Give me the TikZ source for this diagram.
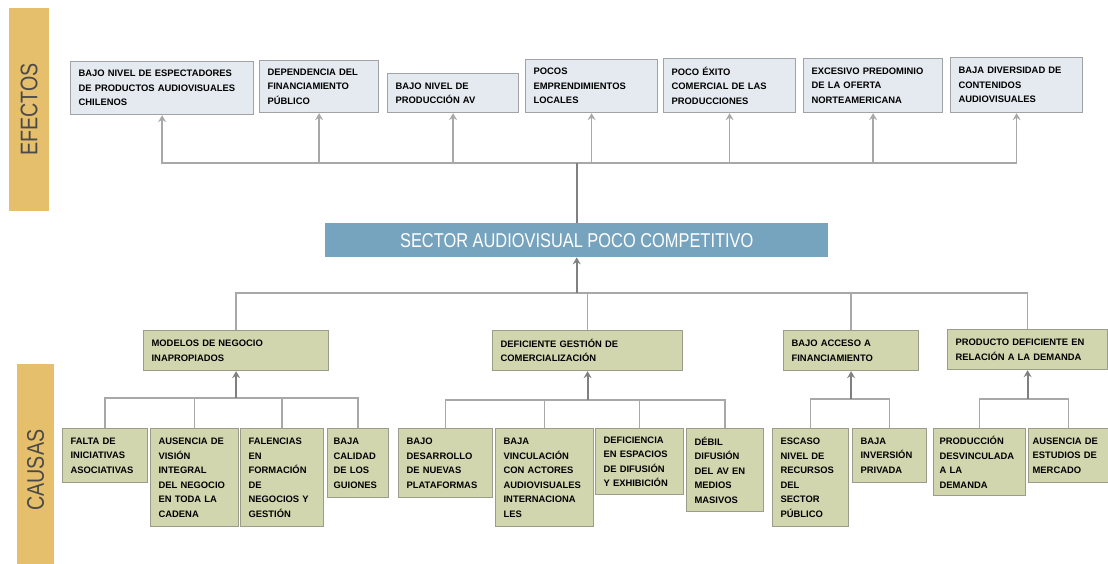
\documentclass[tikz,border=0pt]{standalone}
\usepackage{fontspec}
\setmainfont{Liberation Sans}
\newfontfamily\narrowfont[FakeStretch=0.82]{Liberation Sans}
\newfontfamily\boxfont{Liberation Sans}
\usetikzlibrary{arrows.meta}
\definecolor{barcol}{HTML}{E5BF6B}
\definecolor{efill}{HTML}{E4EAF0}
\definecolor{edraw}{HTML}{A0A4A7}
\definecolor{cfill}{HTML}{D2D6AE}
\definecolor{cdraw}{HTML}{9C9C8A}
\definecolor{centfill}{HTML}{76A3BE}
\definecolor{linecol}{HTML}{A8A8A8}
\definecolor{maincol}{HTML}{808080}
\definecolor{labelcol}{HTML}{4A4A4A}
\tikzset{
  x=1pt, y=-1pt,
  sidebar/.style={fill=barcol, draw=none, anchor=north west, inner sep=0pt},
  sidelabel/.style={rotate=90, font=\narrowfont\fontsize{24}{24}\selectfont, text=labelcol},
  basebox/.style={anchor=north west, inner xsep=8pt, inner ysep=0pt, align=left,
     font=\boxfont\bfseries\fontsize{9.4}{14.5}\selectfont, line width=1.2pt},
  ebox/.style={basebox, fill=efill, draw=edraw},
  cbox/.style={basebox, fill=cfill, draw=cdraw},
  centbox/.style={anchor=north west, fill=centfill, draw=none, inner sep=0pt,
     minimum width=503pt, minimum height=34pt, text=white,
     font=\narrowfont\fontsize{20}{20}\selectfont},
  conn/.style={draw=linecol, line width=1.5pt},
  mainconn/.style={draw=maincol, line width=2pt},
  tip/.style={-{Stealth[length=7pt,width=8pt,inset=2.5pt]}}
}
\begin{document}
\begin{tikzpicture}
\useasboundingbox[fill=white] (0,0) rectangle (1108,564);
% side bars
\node[sidebar, minimum width=40pt, minimum height=203pt] (efbar) at (9,8) {};
\node[sidelabel] (eflabel) at (efbar.center) {EFECTOS};
\node[sidebar, minimum width=37pt, minimum height=200pt] (cabar) at (17,364) {};
\node[sidelabel] (calabel) at ([yshift=-6pt]cabar.center) {CAUSAS};
% effects
\node[ebox, text width=167pt, minimum height=53pt] (e1) at (70,61) {BAJO NIVEL DE ESPECTADORES\\DE PRODUCTOS AUDIOVISUALES\\CHILENOS};
\node[ebox, text width=103pt, minimum height=52pt] (e2) at (259,60) {DEPENDENCIA DEL\\FINANCIAMIENTO\\PÚBLICO};
\node[ebox, text width=115pt, minimum height=39pt] (e3) at (387,73) {BAJO NIVEL DE\\PRODUCCIÓN AV};
\node[ebox, text width=116pt, minimum height=53pt] (e4) at (525,59) {POCOS\\EMPRENDIMIENTOS\\LOCALES};
\node[ebox, text width=116pt, minimum height=54pt] (e5) at (663,58) {POCO ÉXITO\\COMERCIAL DE LAS\\PRODUCCIONES};
\node[ebox, text width=123pt, minimum height=54pt] (e6) at (803,58) {EXCESIVO PREDOMINIO\\DE LA OFERTA\\NORTEAMERICANA};
\node[ebox, text width=116pt, minimum height=55pt] (e7) at (950,57) {BAJA DIVERSIDAD DE\\CONTENIDOS\\AUDIOVISUALES};
% central
\node[centbox] (central) at (325,223) {SECTOR AUDIOVISUAL POCO COMPETITIVO};
% level 1 causes
\node[cbox, text width=169pt, minimum height=40pt] (A) at (143,330) {MODELOS DE NEGOCIO\\INAPROPIADOS};
\node[cbox, text width=174pt, minimum height=40pt] (B) at (492,330) {DEFICIENTE GESTIÓN DE\\COMERCIALIZACIÓN};
\node[cbox, text width=119pt, minimum height=40pt] (C) at (783,330) {BAJO ACCESO A\\FINANCIAMIENTO};
\node[cbox, text width=144pt, minimum height=40pt] (D) at (947,329) {PRODUCTO DEFICIENTE EN\\RELACIÓN A LA DEMANDA};
% level 2 causes
\node[cbox, text width=69pt, minimum height=54pt] (a1) at (62,428) {FALTA DE\\INICIATIVAS\\ASOCIATIVAS};
\node[cbox, text width=72pt, minimum height=98pt] (a2) at (150,428) {AUSENCIA DE\\VISIÓN\\INTEGRAL\\DEL NEGOCIO\\EN TODA LA\\CADENA};
\node[cbox, text width=67pt, minimum height=98pt] (a3) at (240,428) {FALENCIAS\\EN\\FORMACIÓN\\DE\\NEGOCIOS Y\\GESTIÓN};
\node[cbox, text width=49pt, inner xsep=6pt, minimum height=69pt] (a4) at (327,428) {BAJA\\CALIDAD\\DE LOS\\GUIONES};
\node[cbox, text width=78pt, minimum height=69pt] (b1) at (398,428) {BAJO\\DESARROLLO\\DE NUEVAS\\PLATAFORMAS};
\node[cbox, text width=82pt, minimum height=98pt] (b2) at (495,428) {BAJA\\VINCULACIÓN\\CON ACTORES\\AUDIOVISUALES\\INTERNACIONA\\LES};
\node[cbox, text width=72pt, minimum height=66pt] (b3) at (595,428) {DEFICIENCIA\\EN ESPACIOS\\DE DIFUSIÓN\\Y EXHIBICIÓN};
\node[cbox, text width=61pt, minimum height=83pt] (b4) at (686,428) {DÉBIL\\DIFUSIÓN\\DEL AV EN\\MEDIOS\\MASIVOS};
\node[cbox, text width=60pt, minimum height=98pt] (c1) at (772,428) {ESCASO\\NIVEL DE\\RECURSOS\\DEL\\SECTOR\\PÚBLICO};
\node[cbox, text width=58pt, minimum height=54pt] (c2) at (852,428) {BAJA\\INVERSIÓN\\PRIVADA};
\node[cbox, text width=80pt, inner xsep=6pt, minimum height=67pt] (d1) at (933,428) {PRODUCCIÓN\\DESVINCULADA\\A LA\\DEMANDA};
\node[cbox, text width=72pt, inner xsep=4pt, minimum height=54pt] (d2) at (1028,428) {AUSENCIA DE\\ESTUDIOS DE\\MERCADO};
% connectors: effects
\coordinate (tophub) at (central.north |- 0,163);
\foreach \e in {e1,e2,e3,e4,e5,e6,e7}
  \draw[conn, tip] (tophub) -| (\e.south);
\draw[mainconn] (central.north) -- (tophub);
% connectors: level 1
\coordinate (bothub) at (central.south |- 0,293);
\foreach \c in {A,B,C,D}
  \draw[conn] (bothub) -| (\c.north);
\draw[mainconn, tip] (bothub) -- (central.south);
% connectors: level 2
\coordinate (ha) at (A.south |- 0,398);
\foreach \x in {a1,a2,a3,a4} \draw[conn] (ha) -| (\x.north);
\draw[mainconn, tip] (ha) -- (A.south);
\coordinate (hb) at (B.south |- 0,400);
\foreach \x in {b1,b2,b3,b4} \draw[conn] (hb) -| (\x.north);
\draw[mainconn, tip] (hb) -- (B.south);
\coordinate (hc) at (C.south |- 0,399);
\foreach \x in {c1,c2} \draw[conn] (hc) -| (\x.north);
\draw[mainconn, tip] (hc) -- (C.south);
\coordinate (hd) at (D.south |- 0,399);
\foreach \x in {d1,d2} \draw[conn] (hd) -| (\x.north);
\draw[mainconn, tip] (hd) -- (D.south);
\end{tikzpicture}
\end{document}
